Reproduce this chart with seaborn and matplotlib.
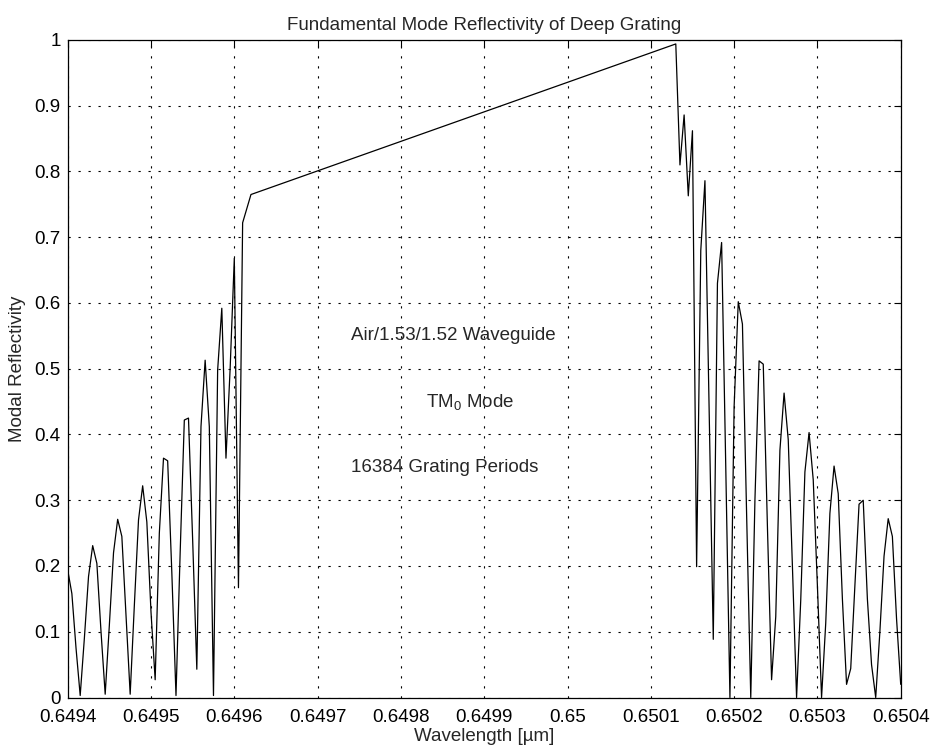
import numpy as np
import pandas as pd
import matplotlib
matplotlib.use("Agg")
import matplotlib.pyplot as plt
import seaborn as sns

# Sampled wavelengths [um] on the short-wavelength side of the stop band
wl_short = [0.649400, 0.649405, 0.649410, 0.649415, 0.649420, 0.649425, 0.649430,
            0.649435, 0.649440, 0.649445, 0.649450, 0.649455, 0.649460, 0.649465,
            0.649470, 0.649475, 0.649480, 0.649485, 0.649490, 0.649495, 0.649500,
            0.649505, 0.649510, 0.649515, 0.649520, 0.649525, 0.649530, 0.649535,
            0.649540, 0.649545, 0.649550, 0.649555, 0.649560, 0.649565, 0.649570,
            0.649575, 0.649580, 0.649585, 0.649590, 0.649595, 0.649600, 0.649605,
            0.649610, 0.649620]
refl_short = [0.194, 0.158, 0.075, 0.003, 0.090, 0.184, 0.231, 0.204, 0.100, 0.005,
              0.110, 0.220, 0.271, 0.245, 0.125, 0.005, 0.140, 0.270, 0.322, 0.267,
              0.130, 0.027, 0.250, 0.364, 0.360, 0.190, 0.003, 0.220, 0.422, 0.425,
              0.240, 0.043, 0.412, 0.513, 0.412, 0.003, 0.498, 0.592, 0.364, 0.500,
              0.668, 0.167, 0.722, 0.765]

# Sampled wavelengths [um] on the long-wavelength side of the stop band
wl_long = [0.650130, 0.650135, 0.650140, 0.650145, 0.650150, 0.650155, 0.650160,
           0.650165, 0.650170, 0.650175, 0.650180, 0.650185, 0.650190, 0.650195,
           0.650200, 0.650205, 0.650210, 0.650215, 0.650220, 0.650225, 0.650230,
           0.650235, 0.650240, 0.650245, 0.650250, 0.650255, 0.650260, 0.650265,
           0.650270, 0.650275, 0.650280, 0.650285, 0.650290, 0.650295, 0.650300,
           0.650305, 0.650310, 0.650315, 0.650320, 0.650325, 0.650330, 0.650335,
           0.650340, 0.650345, 0.650350, 0.650355, 0.650360, 0.650365, 0.650370,
           0.650375, 0.650380, 0.650385, 0.650390, 0.650395, 0.650400]
refl_long = [0.994, 0.810, 0.886, 0.763, 0.862, 0.199, 0.680, 0.786, 0.440, 0.0885,
             0.630, 0.692, 0.350, 0.000, 0.442, 0.602, 0.568, 0.280, 0.000, 0.300,
             0.512, 0.507, 0.260, 0.027, 0.123, 0.376, 0.463, 0.392, 0.200, 0.000,
             0.148, 0.343, 0.403, 0.331, 0.170, 0.000, 0.113, 0.280, 0.352, 0.310,
             0.150, 0.020, 0.044, 0.170, 0.294, 0.300, 0.150, 0.050, 0.000, 0.100,
             0.215, 0.272, 0.245, 0.120, 0.020]

x_ticks = [0.6494, 0.6495, 0.6496, 0.6497, 0.6498, 0.6499, 0.6500, 0.6501, 0.6502, 0.6503, 0.6504]
x_tick_labels = ["0.6494", "0.6495", "0.6496", "0.6497", "0.6498", "0.6499", "0.65",
                 "0.6501", "0.6502", "0.6503", "0.6504"]
y_ticks = [0.0, 0.1, 0.2, 0.3, 0.4, 0.5, 0.6, 0.7, 0.8, 0.9, 1.0]
y_tick_labels = ["0", "0.1", "0.2", "0.3", "0.4", "0.5", "0.6", "0.7", "0.8", "0.9", "1"]

sns.set_theme(style="white")
plt.rcParams["font.family"] = ["Liberation Sans", "DejaVu Sans"]
plt.rcParams["mathtext.fontset"] = "custom"
plt.rcParams["mathtext.rm"] = "Liberation Sans"
plt.rcParams["mathtext.it"] = "Liberation Sans:italic"

df = pd.DataFrame({
    "wavelength": wl_short + wl_long,
    "reflectivity": refl_short + refl_long,
})

FS = 13.5
fig = plt.figure(figsize=(9.35, 7.51), dpi=100)
ax = fig.add_axes([67.7 / 935, 1 - 697.5 / 751, 833 / 935, 657.5 / 751])

sns.lineplot(data=df, x="wavelength", y="reflectivity", sort=False, estimator=None,
             color="black", linewidth=0.9, ax=ax)

ax.set_xlim(x_ticks[0], x_ticks[-1])
ax.set_ylim(0, 1)
ax.set_xticks(x_ticks)
ax.set_xticklabels(x_tick_labels, fontsize=FS)
ax.set_yticks(y_ticks)
ax.set_yticklabels(y_tick_labels, fontsize=FS)

ax.grid(True, color="black", linestyle=(0, (2, 7)), linewidth=0.8)
ax.set_axisbelow(True)
for side in ax.spines.values():
    side.set_visible(True)
    side.set_color("black")
    side.set_linewidth(0.9)
ax.tick_params(axis="both", which="both", direction="in", length=5, width=0.8,
               top=True, right=True, colors="black", pad=5)
ax.tick_params(axis="x", pad=8)
ax.tick_params(axis="both", labelcolor="black")

ax.set_title("Fundamental Mode Reflectivity of Deep Grating", fontsize=FS, pad=7)
ax.set_xlabel("Wavelength [\u00b5m]", fontsize=FS, labelpad=2)
ax.set_ylabel("Modal Reflectivity", fontsize=FS, labelpad=6)

ax.text(0.64974, 0.55, "Air/1.53/1.52 Waveguide", fontsize=FS, va="center", ha="left")
ax.text(0.64983, 0.45, r"TM$_\mathregular{0}$ Mode", fontsize=FS, va="center", ha="left")
ax.text(0.64974, 0.35, "16384 Grating Periods", fontsize=FS, va="center", ha="left")

fig.patch.set_facecolor("white")
fig.savefig("out.png", dpi=100, facecolor="white")
